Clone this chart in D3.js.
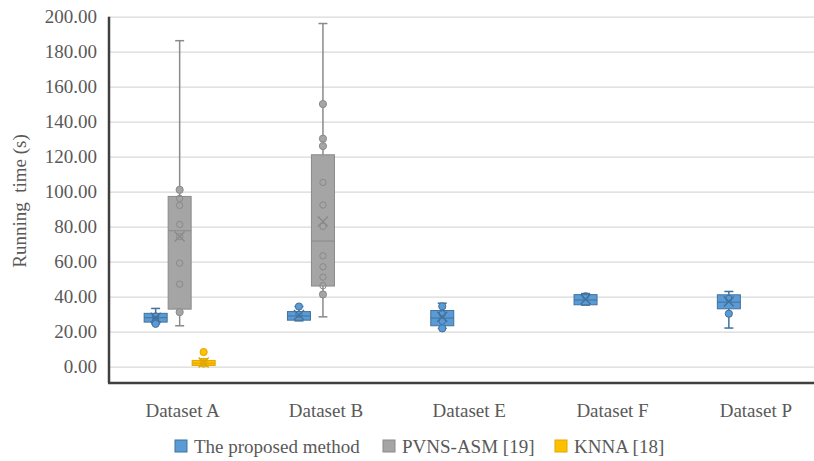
<!DOCTYPE html>
<html>
<head>
<meta charset="utf-8">
<script src="https://cdn.jsdelivr.net/npm/d3@7/dist/d3.min.js"></script>
<style>
  body { margin: 0; background: #fff; }
</style>
</head>
<body>
<div id="chart"></div>
<script>
// data
var categories = ["Dataset A", "Dataset B", "Dataset E", "Dataset F", "Dataset P"];
var seriesNames = ["The proposed method", "PVNS-ASM [19]", "KNNA [18]"];
var yTicks = [0, 20, 40, 60, 80, 100, 120, 140, 160, 180, 200];

// per category: [whiskerLow, q1, median, q3, whiskerHigh, mean]
var proposedStats = [
  [24.5, 25.5, 28.0, 30.5, 33.3, 28.0],
  [26.2, 26.6, 29.0, 31.5, 34.4, 29.5],
  [21.9, 23.4, 27.8, 32.1, 36.3, 28.5],
  [35.2, 35.4, 38.1, 41.2, 41.8, 38.6],
  [22.1, 33.1, 36.9, 41.1, 43.0, 37.3]
];
var proposedInner = [[29.0, 27.0], [30.0], [30.2, 26.0], [40.5], [39.0]];
var proposedOuter = [[24.5], [34.4], [34.5, 21.9], [], [30.3]];

var pvnsStats = [
  [23.4, 32.9, 77.7, 97.3, 186.3, 74.4],
  [28.5, 46.1, 71.8, 121.1, 196.1, 83.0],
  null, null, null
];
var pvnsInner = [
  [96.2, 92.2, 81.3, 74.4, 59.2, 47.2],
  [105.3, 92.4, 80.2, 63.4, 57.1, 51.2, 46.3],
  [], [], []
];
var pvnsOuter = [[101.1, 31.2], [150.1, 130.3, 126.1, 41.3], [], [], []];

var knnaStats = [[0.5, 0.7, 2.0, 3.6, 4.5, 2.4], null, null, null, null];
var knnaInner = [[3.0, 1.5], [], [], [], []];
var knnaOuter = [[8.4], [], [], [], []];

var fills = ["#5b9bd5", "#a5a5a5", "#ffc000"];
var strokes = ["#41719c", "#8a8a8a", "#e0a800"];

var series = [
  { stats: proposedStats, inner: proposedInner, outer: proposedOuter },
  { stats: pvnsStats, inner: pvnsInner, outer: pvnsOuter },
  { stats: knnaStats, inner: knnaInner, outer: knnaOuter }
];

var FONT = "'Liberation Serif', 'Times New Roman', serif";
var fontSize = 19;

// Dimensions
var width = 814;
var height = 461;
var left = 108;
var step = 143.3;

var svg = d3.select("#chart").append("svg")
  .attr("width", width)
  .attr("height", height)
  .style("font-family", FONT);

var x = d3.scaleBand()
  .domain(categories)
  .range([left, left + step * categories.length])
  .padding(0);

var sub = d3.scaleBand()
  .domain(d3.range(seriesNames.length))
  .range([-36, 36]);

var boxW = 23;

var y = d3.scaleLinear()
  .domain([-9.3, 200])
  .range([383, 16.7]);

// grid
svg.append("g")
  .attr("transform", "translate(" + left + ",0)")
  .call(d3.axisLeft(y).tickValues(yTicks).tickSize(-(width - left)).tickFormat(""))
  .call(function(g) {
    g.select(".domain").remove();
    g.selectAll("line").attr("stroke", "#d9d9d9").attr("stroke-width", 1.3);
  });

// y labels
svg.append("g")
  .attr("transform", "translate(97,0)")
  .call(d3.axisLeft(y).tickValues(yTicks).tickSize(0).tickFormat(d3.format(".2f")))
  .call(function(g) {
    g.select(".domain").remove();
    g.attr("font-family", null).attr("font-size", null);
    g.selectAll("text")
      .attr("fill", "#595959")
      .attr("x", 0)
      .style("font-family", FONT)
      .style("font-size", fontSize + "px");
  });

// axis lines
svg.append("line")
  .attr("x1", 109).attr("x2", 109)
  .attr("y1", y(200)).attr("y2", y(-9.3))
  .attr("stroke", "#404040").attr("stroke-width", 2.5);
svg.append("line")
  .attr("x1", 108).attr("x2", width)
  .attr("y1", y(-9.3)).attr("y2", y(-9.3))
  .attr("stroke", "#404040").attr("stroke-width", 2.5);

// boxes
series.forEach(function(s, si) {
  var g = svg.append("g").attr("class", "series");
  s.stats.forEach(function(st, ci) {
    if (!st) return;
    var cx = x(categories[ci]) + x.bandwidth() / 2 + sub(si) + sub.bandwidth() / 2;
    var bg = g.append("g");
    // whiskers
    bg.append("line")
      .attr("x1", cx).attr("x2", cx)
      .attr("y1", y(st[4])).attr("y2", y(st[3]))
      .attr("stroke", strokes[si]).attr("stroke-width", 1.5);
    bg.append("line")
      .attr("x1", cx).attr("x2", cx)
      .attr("y1", y(st[1])).attr("y2", y(st[0]))
      .attr("stroke", strokes[si]).attr("stroke-width", 1.5);
    [st[0], st[4]].forEach(function(v) {
      bg.append("line")
        .attr("x1", cx - 4.5).attr("x2", cx + 4.5)
        .attr("y1", y(v)).attr("y2", y(v))
        .attr("stroke", strokes[si]).attr("stroke-width", 1.5);
    });
    // box
    bg.append("rect")
      .attr("x", cx - boxW / 2)
      .attr("y", y(st[3]))
      .attr("width", boxW)
      .attr("height", Math.max(y(st[1]) - y(st[3]), 1))
      .attr("fill", fills[si])
      .attr("stroke", strokes[si])
      .attr("stroke-width", 1);
    // median
    bg.append("line")
      .attr("x1", cx - boxW / 2).attr("x2", cx + boxW / 2)
      .attr("y1", y(st[2])).attr("y2", y(st[2]))
      .attr("stroke", strokes[si]).attr("stroke-width", 1);
    // inner points
    bg.selectAll(".inner")
      .data(s.inner[ci])
      .enter().append("circle")
      .attr("class", "inner")
      .attr("cx", cx).attr("cy", function(d) { return y(d); })
      .attr("r", 3.2)
      .attr("fill", "none")
      .attr("stroke", strokes[si]).attr("stroke-width", 1);
    // outer points
    bg.selectAll(".outer")
      .data(s.outer[ci])
      .enter().append("circle")
      .attr("class", "outer")
      .attr("cx", cx).attr("cy", function(d) { return y(d); })
      .attr("r", 3.6)
      .attr("fill", fills[si])
      .attr("stroke", strokes[si]).attr("stroke-width", 1);
    // mean marker
    var my = y(st[5]);
    bg.append("path")
      .attr("d", "M" + (cx - 5) + "," + (my - 5) + "L" + (cx + 5) + "," + (my + 5) +
        "M" + (cx + 5) + "," + (my - 5) + "L" + (cx - 5) + "," + (my + 5))
      .attr("stroke", strokes[si]).attr("stroke-width", 1.4);
  });
});

// x labels
svg.append("g")
  .selectAll("text")
  .data(categories)
  .enter().append("text")
  .attr("x", function(d) { return x(d) + x.bandwidth() / 2 + 3; })
  .attr("y", 417)
  .attr("text-anchor", "middle")
  .attr("fill", "#595959")
  .style("font-family", FONT)
  .style("font-size", fontSize + "px")
  .text(function(d) { return d; });

// y title
svg.append("text")
  .attr("transform", "translate(26,201) rotate(-90)")
  .attr("text-anchor", "middle")
  .attr("fill", "#595959")
  .style("font-family", FONT)
  .style("font-size", fontSize + "px")
  .style("white-space", "pre")
  .text("Running  time (s)");

// legend
var legendX = [175, 383, 555];
var legend = svg.append("g");
seriesNames.forEach(function(name, i) {
  legend.append("rect")
    .attr("x", legendX[i]).attr("y", 440)
    .attr("width", 12).attr("height", 12)
    .attr("fill", fills[i])
    .attr("stroke", strokes[i]).attr("stroke-width", 1);
  legend.append("text")
    .attr("x", legendX[i] + 19).attr("y", 453)
    .attr("fill", "#595959")
    .style("font-family", FONT)
    .style("font-size", fontSize + "px")
    .text(name);
});
</script>
</body>
</html>
